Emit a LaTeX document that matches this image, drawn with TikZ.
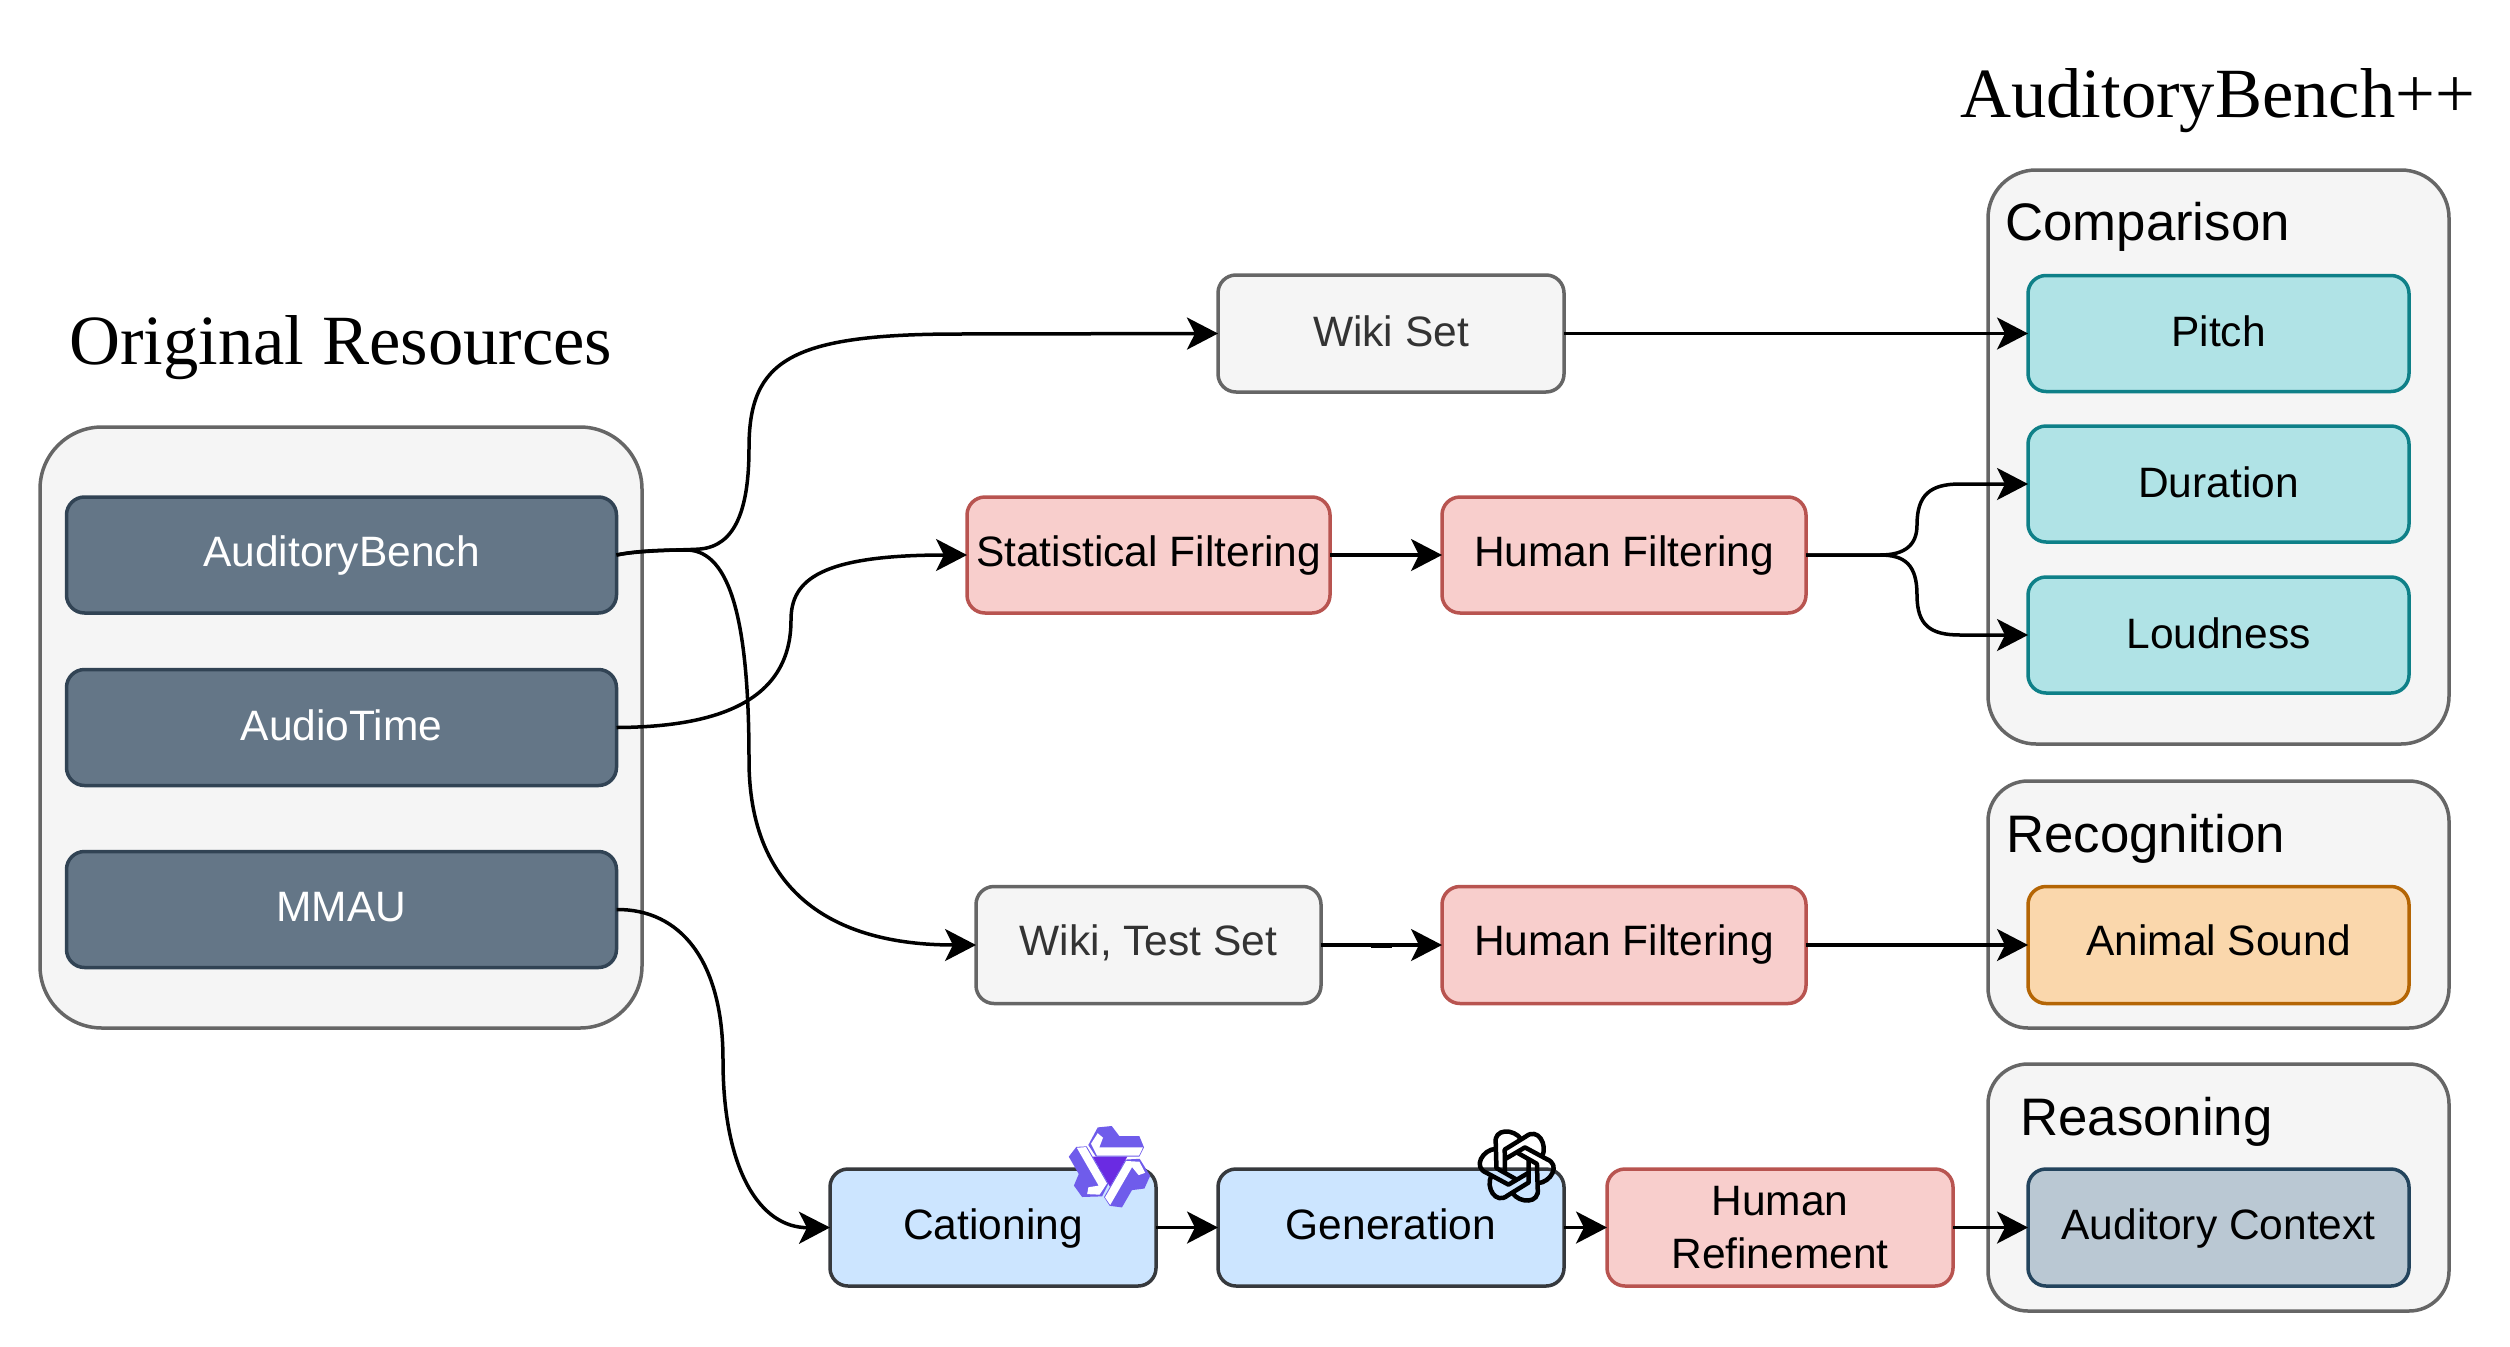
\documentclass[tikz,border=0pt]{standalone}
\usepackage{fontspec}
\setmainfont{Liberation Sans}
\newfontfamily\titlefont{Liberation Serif}
\usetikzlibrary{arrows.meta}
\definecolor{slatefill}{HTML}{647687}
\definecolor{slateline}{HTML}{314354}
\definecolor{grayfill}{HTML}{F5F5F5}
\definecolor{grayline}{HTML}{666666}
\definecolor{redfill}{HTML}{F8CECC}
\definecolor{redline}{HTML}{B85450}
\definecolor{tealfill}{HTML}{B0E3E6}
\definecolor{tealline}{HTML}{0E8088}
\definecolor{orangefill}{HTML}{FAD7AC}
\definecolor{orangeline}{HTML}{B46504}
\definecolor{bluefill}{HTML}{CCE5FF}
\definecolor{blueline}{HTML}{36393D}
\definecolor{contextfill}{HTML}{BAC8D3}
\definecolor{contextline}{HTML}{23445D}
\definecolor{qwenlight}{HTML}{6F5CEB}
\definecolor{qwendark}{HTML}{6A2BE2}
\tikzset{
    box/.style={draw, line width=3.5pt, rounded corners=18pt, inner sep=0pt, outer sep=0pt, align=center, text height=32pt, text depth=9pt, font=\fontsize{42.5}{53}\selectfont},
    lowtext/.style={text depth=6pt},
    hightext/.style={text depth=12pt},
    slatebox/.style={box, fill=slatefill, draw=slateline, text=white, minimum width=550pt, minimum height=116pt},
    graybox/.style={box, fill=grayfill, draw=grayline, text=black!80},
    redbox/.style={box, fill=redfill, draw=redline},
    tealbox/.style={box, fill=tealfill, draw=tealline, lowtext, minimum width=381pt, minimum height=116pt},
    bluebox/.style={box, fill=bluefill, draw=blueline},
    groupbox/.style={draw=grayline, fill=grayfill, line width=3.5pt, inner sep=0pt, outer sep=0pt},
    grouplabel/.style={anchor=base west, inner sep=0pt, font=\fontsize{52.8}{60}\selectfont},
    headlabel/.style={anchor=base west, inner sep=0pt, font=\titlefont\fontsize{70.6}{80}\selectfont},
    flow/.style={line width=3.5pt, -{Stealth[length=31pt,width=32pt,inset=8pt]}}
}

\begin{document}
\begin{tikzpicture}[x=1pt,y=-1pt]
            \useasboundingbox (0,0) rectangle (2510,1346);

            % Define group boxes
            \node[groupbox, rounded corners=62pt, minimum width=602pt, minimum height=601pt] (resources) at (341,727.5) {};
            \node[groupbox, rounded corners=48pt, minimum width=461pt, minimum height=574pt] (comparison) at (2218.5,457) {};
            \node[groupbox, rounded corners=40pt, minimum width=461pt, minimum height=247pt] (recognition) at (2218.5,904.5) {};
            \node[groupbox, rounded corners=40pt, minimum width=461pt, minimum height=247pt] (reasoning) at (2218.5,1187.5) {};

            % Define titles
            \node[headlabel] (resourcestitle) at (69,364) {Original Resources};
            \node[headlabel] (benchtitle) at (1960,117) {AuditoryBench++};
            \node[grouplabel] (comparisontitle) at (2005,240) {Comparison};
            \node[grouplabel] (recognitiontitle) at (2006,852) {Recognition};
            \node[grouplabel] (reasoningtitle) at (2020,1135) {Reasoning};

            % Define nodes
            \node[slatebox] (auditorybench) at (341.5,555) {AuditoryBench};
            \node[slatebox, lowtext] (audiotime) at (341.5,727.5) {AudioTime};
            \node[slatebox] (mmau) at (341.5,909.5) {MMAU};

            \node[graybox, lowtext, minimum width=346pt, minimum height=117pt] (wikiset) at (1391,333.5) {Wiki Set};
            \node[redbox, minimum width=363pt, minimum height=116pt] (statfilter) at (1148.5,555) {Statistical Filtering};
            \node[redbox, minimum width=364pt, minimum height=116pt] (humanfilter) at (1624,555) {Human Filtering};
            \node[graybox, hightext, minimum width=345pt, minimum height=117pt] (wikitest) at (1148.5,945) {Wiki, Test Set};
            \node[redbox, hightext, minimum width=364pt, minimum height=117pt] (humanfiltertwo) at (1624,945) {Human Filtering};
            \node[bluebox, minimum width=326pt, minimum height=117pt] (cationing) at (993,1227.5) {Cationing};
            \node[bluebox, minimum width=346pt, minimum height=117pt] (generation) at (1391,1227.5) {Generation};
            \node[redbox, text height=, text depth=, minimum width=346pt, minimum height=117pt] (refinement) at (1780,1227.5) {Human\\Refinement};

            \node[tealbox] (pitch) at (2218.5,333.5) {Pitch};
            \node[tealbox] (duration) at (2218.5,484) {Duration};
            \node[tealbox] (loudness) at (2218.5,635) {Loudness};
            \node[box, hightext, fill=orangefill, draw=orangeline, minimum width=381pt, minimum height=117pt] (animal) at (2218.5,945) {Animal Sound};
            \node[box, fill=contextfill, draw=contextline, minimum width=381pt, minimum height=117pt] (context) at (2218.5,1227.5) {Auditory Context};

            % Draw edges
            \draw[flow] (auditorybench.east) .. controls (640,550) and (690,550) .. (700,549) .. controls (735,546) and (749,510) .. (749,448) .. controls (749,360) and (790,334) .. (960,334) -- (wikiset.west);
            \draw[flow] (auditorybench.east) .. controls (640,550) and (670,550) .. (688,550) .. controls (730,552) and (749,620) .. (749,760) .. controls (749,890) and (830,945) .. (wikitest.west);
            \draw[flow] (audiotime.east) .. controls (720,727) and (791,700) .. (791,620) .. controls (791,580) and (820,555) .. (statfilter.west);
            \draw[flow] (mmau.east) .. controls (680,909) and (723,960) .. (723,1060) .. controls (723,1170) and (760,1228) .. (cationing.west);
            \draw[flow] (wikiset.east) -- (pitch.west);
            \draw[flow] (statfilter.east) -- (humanfilter.west);
            \draw[flow] (humanfilter.east) -- (1880,555) .. controls (1905,555) and (1917,545) .. (1917,525) .. controls (1917,495) and (1930,484) .. (1960,484) -- (duration.west);
            \draw[flow] (humanfilter.east) -- (1880,555) .. controls (1905,555) and (1917,565) .. (1917,595) .. controls (1917,625) and (1930,635) .. (1960,635) -- (loudness.west);
            \draw[flow] (wikitest.east) -- (humanfiltertwo.west);
            \draw[line width=5pt] (1371,945) -- (1392,945);
            \draw[flow] (humanfiltertwo.east) -- (animal.west);
            \draw[flow] (cationing.east) -- (generation.west);
            \draw[flow] (generation.east) -- (refinement.west);
            \draw[flow] (refinement.east) -- (context.west);

            % Caption logo
            \begin{scope}[shift={(1110,1166.7)}]
                \fill[qwendark] (-17.3,-10) -- (17.3,-10) -- (0,20) -- cycle;
                \foreach \turn in {0,120,240} {
                    \fill[qwenlight, rotate=\turn] (-12.3,-39.3) -- (1.7,-40.7) -- (9.3,-30.7) -- (29.3,-30.7) -- (34,-19.3) -- (29.3,-10) -- (-14,-10) -- (-21.7,-21.7) -- cycle;
                }
                \foreach \turn in {0,120,240} {
                    \fill[white, rotate=\turn] (-19,-23) -- (-12.3,-33.5) -- (-7,-29) -- (-10.7,-19.3) -- (33,-19.3) -- (29,-11) -- (-13,-11) -- cycle;
                }
            \end{scope}

            % Generation logo
            \begin{scope}[shift={(1516.7,1166)}, scale=0.9]
                \foreach \turn in {0,60,...,300} {
                    \draw[black, line width=4.5pt, line join=round, rotate=\turn] (5,-29.6) .. controls (-3,-42) and (-26,-42) .. (-23.3,-25) -- (-22.5,2.4) -- (0.1,15.2);
                }
            \end{scope}
        \end{tikzpicture}
\end{document}
